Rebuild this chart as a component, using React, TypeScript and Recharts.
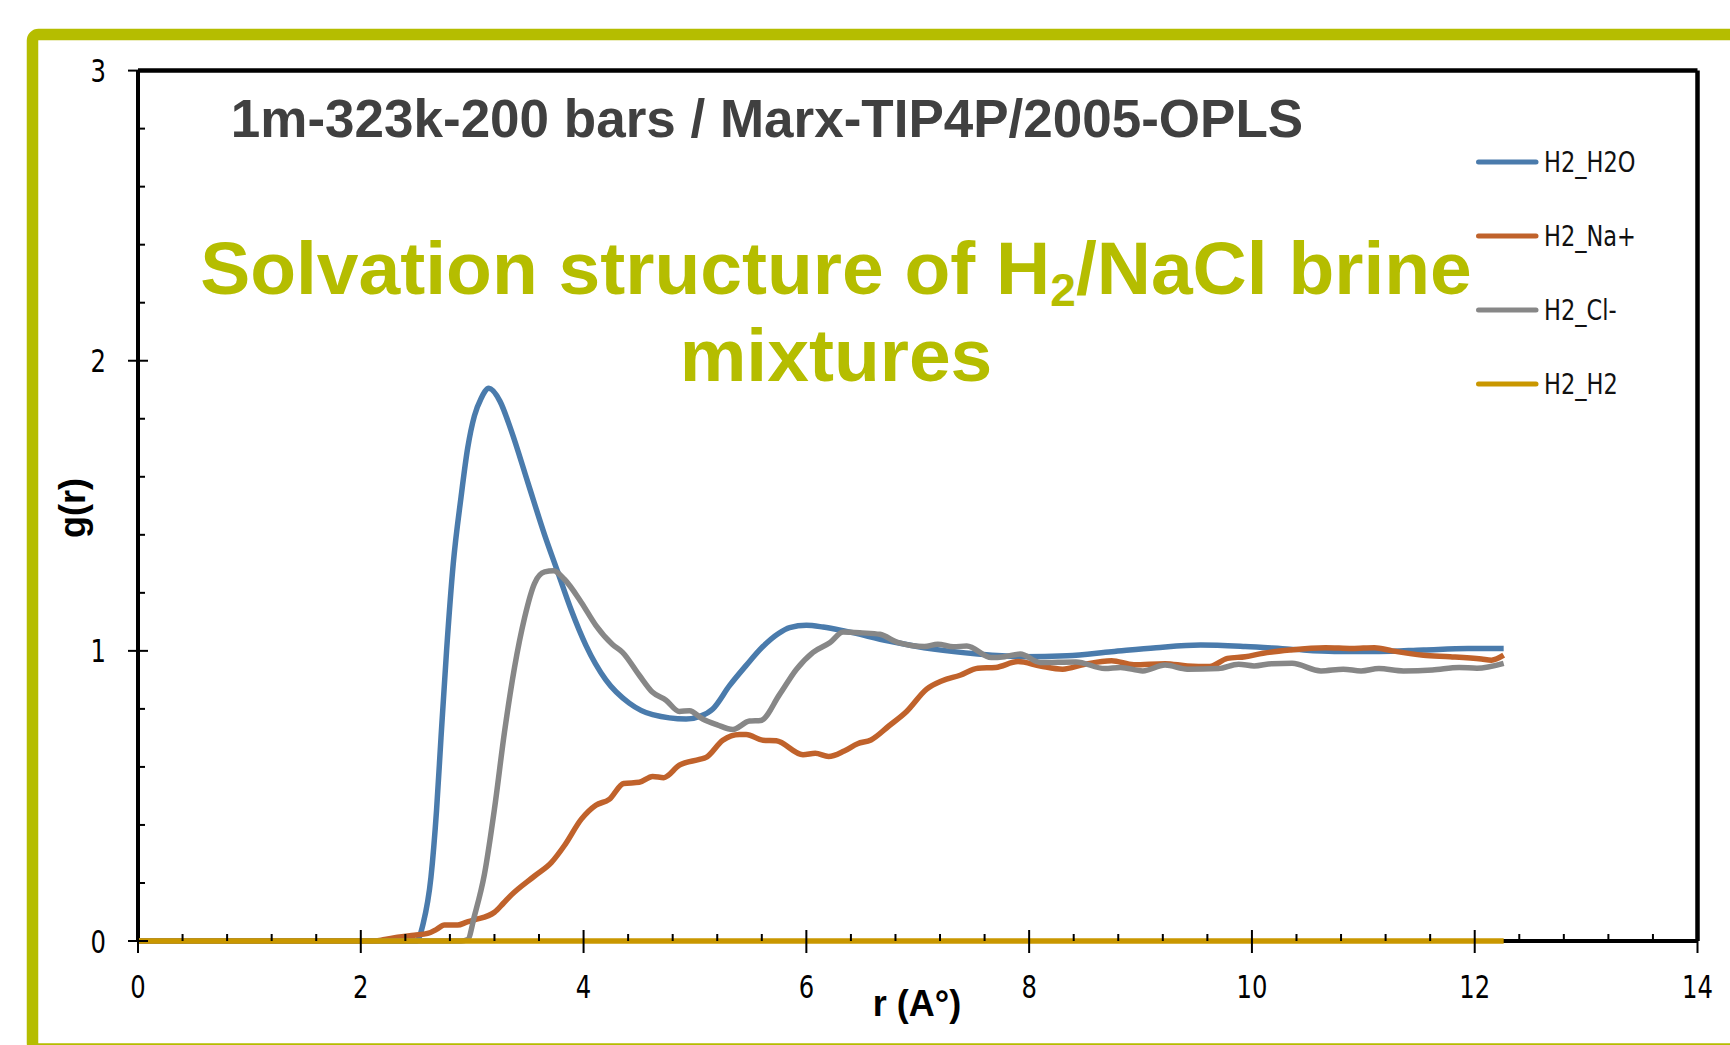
import React from 'react';
import { LineChart, Line, XAxis, YAxis, ReferenceLine, Legend } from 'recharts';

// ---------- data (r in Å, g(r)) ----------
const h2oR = [0, 2.45, 2.5, 2.56, 2.63, 2.68, 2.72, 2.77, 2.83, 2.9, 2.96, 3.02, 3.08, 3.15, 3.25, 3.35, 3.5, 3.65, 3.77, 3.89, 4.02, 4.2, 4.41, 4.62, 4.92, 5.05, 5.16, 5.31, 5.46, 5.61, 5.75, 5.85, 6.0, 6.15, 6.34, 6.74, 7.14, 7.54, 7.94, 8.34, 8.74, 9.14, 9.54, 9.94, 10.34, 10.74, 11.14, 11.54, 11.94, 12.26];
const h2oG = [0, 0, 0, 0.06, 0.22, 0.45, 0.7, 1.0, 1.3, 1.53, 1.7, 1.81, 1.87, 1.905, 1.86, 1.76, 1.58, 1.4, 1.27, 1.14, 1.02, 0.9, 0.82, 0.78, 0.765, 0.775, 0.8, 0.88, 0.95, 1.015, 1.06, 1.08, 1.088, 1.082, 1.069, 1.034, 1.006, 0.989, 0.98, 0.983, 0.997, 1.011, 1.02, 1.015, 1.006, 0.998, 0.998, 1.003, 1.008, 1.008];

const naR = [0, 2.1, 2.2, 2.33, 2.48, 2.6, 2.68, 2.75, 2.87, 2.95, 3.02, 3.2, 3.28, 3.35, 3.56, 3.71, 3.83, 3.98, 4.11, 4.23, 4.36, 4.5, 4.62, 4.72, 4.86, 5.04, 5.1, 5.25, 5.4, 5.46, 5.61, 5.73, 5.97, 6.08, 6.2, 6.34, 6.46, 6.58, 6.74, 6.9, 7.08, 7.22, 7.38, 7.54, 7.7, 7.9, 8.1, 8.3, 8.5, 8.74, 8.94, 9.22, 9.42, 9.62, 9.78, 9.94, 10.1, 10.34, 10.66, 10.9, 11.1, 11.26, 11.54, 11.78, 12.06, 12.15, 12.26];
const naG = [0, 0, 0.004, 0.013, 0.02, 0.026, 0.04, 0.055, 0.055, 0.065, 0.073, 0.099, 0.13, 0.158, 0.224, 0.27, 0.33, 0.42, 0.468, 0.488, 0.543, 0.547, 0.567, 0.563, 0.606, 0.626, 0.633, 0.692, 0.712, 0.712, 0.692, 0.69, 0.642, 0.647, 0.636, 0.655, 0.68, 0.693, 0.741, 0.791, 0.868, 0.897, 0.916, 0.94, 0.943, 0.963, 0.948, 0.937, 0.954, 0.966, 0.952, 0.956, 0.948, 0.946, 0.974, 0.98, 0.992, 1.003, 1.011, 1.008, 1.011, 1.0, 0.985, 0.98, 0.972, 0.968, 0.985];

const clR = [0, 2.9, 2.96, 3.02, 3.11, 3.2, 3.29, 3.38, 3.47, 3.56, 3.65, 3.73, 3.83, 3.98, 4.11, 4.26, 4.35, 4.5, 4.62, 4.74, 4.86, 4.95, 5.07, 5.2, 5.34, 5.49, 5.59, 5.76, 5.91, 6.06, 6.21, 6.33, 6.5, 6.66, 6.82, 7.06, 7.18, 7.32, 7.44, 7.66, 7.78, 7.92, 8.1, 8.42, 8.68, 8.82, 9.02, 9.22, 9.42, 9.7, 9.88, 10.02, 10.18, 10.36, 10.62, 10.82, 10.98, 11.14, 11.36, 11.62, 11.86, 12.02, 12.26];
const clG = [0, 0, 0.005, 0.086, 0.23, 0.455, 0.72, 0.943, 1.114, 1.233, 1.272, 1.276, 1.246, 1.167, 1.088, 1.022, 0.995, 0.916, 0.857, 0.83, 0.791, 0.794, 0.765, 0.745, 0.729, 0.758, 0.76, 0.85, 0.936, 0.995, 1.028, 1.065, 1.062, 1.057, 1.029, 1.015, 1.023, 1.014, 1.017, 0.977, 0.98, 0.989, 0.96, 0.962, 0.939, 0.943, 0.931, 0.951, 0.937, 0.939, 0.954, 0.948, 0.956, 0.957, 0.931, 0.937, 0.931, 0.939, 0.931, 0.934, 0.943, 0.94, 0.957];

const h2R = [0, 12.26];
const h2G = [0, 0];

const seriesNames = ['H2_H2O', 'H2_Na+', 'H2_Cl-', 'H2_H2'];
const seriesColors = ['#4A7BAC', '#C0622B', '#878787', '#C99700'];

const xMajorTicks = [0, 2, 4, 6, 8, 10, 12, 14];
const xAllTicks = [0, 0.4, 0.8, 1.2, 1.6, 2, 2.4, 2.8, 3.2, 3.6, 4, 4.4, 4.8, 5.2, 5.6, 6, 6.4, 6.8, 7.2, 7.6, 8, 8.4, 8.8, 9.2, 9.6, 10, 10.4, 10.8, 11.2, 11.6, 12, 12.4, 12.8, 13.2, 13.6, 14];
const yMajorTicks = [0, 1, 2, 3];
const yAllTicks = [0, 0.2, 0.4, 0.6, 0.8, 1, 1.2, 1.4, 1.6, 1.8, 2, 2.2, 2.4, 2.6, 2.8, 3];

const toRows = (rs: number[], gs: number[]) => rs.map((r, i) => ({ r, g: gs[i] }));
const h2oData = toRows(h2oR, h2oG);
const naData = toRows(naR, naG);
const clData = toRows(clR, clG);
const h2Data = toRows(h2R, h2G);
const seriesData = [h2oData, naData, clData, h2Data];

const TICK_FONT = "'Liberation Sans Narrow', 'DejaVu Sans Condensed', 'Liberation Sans', Arial, sans-serif";
const GREEN = '#B5BD00';

const XTick = (props: any) => {
  const { x, y, payload } = props;
  const v = payload.value;
  if (xMajorTicks.includes(v)) {
    return (
      <g>
        <line x1={x} x2={x} y1={y - 11} y2={y + 12} stroke="#000" strokeWidth={2} />
        <text
          transform={`translate(${x},${y + 57}) scale(1,1.2)`}
          textAnchor="middle"
          fontFamily={TICK_FONT}
          fontSize={27}
          fill="#000"
        >
          {v}
        </text>
      </g>
    );
  }
  return <line x1={x} x2={x} y1={y - 7} y2={y} stroke="#000" strokeWidth={2} />;
};

const YTick = (props: any) => {
  const { x, y, payload } = props;
  const v = payload.value;
  if (yMajorTicks.includes(v)) {
    return (
      <g>
        <line x1={x - 10} x2={x + 10} y1={y} y2={y} stroke="#000" strokeWidth={2} />
        <text
          transform={`translate(${x - 32},${y + 11.5}) scale(1,1.2)`}
          textAnchor="end"
          fontFamily={TICK_FONT}
          fontSize={27}
          fill="#000"
        >
          {v}
        </text>
      </g>
    );
  }
  return <line x1={x} x2={x + 7} y1={y} y2={y} stroke="#000" strokeWidth={2} />;
};

const LegendContent = (props: any) => {
  const payload = [...(props.payload || [])].sort(
    (a: any, b: any) => seriesNames.indexOf(a.value) - seriesNames.indexOf(b.value)
  );
  return (
    <div style={{ display: 'flex', flexDirection: 'column' }}>
      {payload.map((e: any, i: number) => (
        <div key={i} style={{ height: 74, display: 'flex', alignItems: 'center' }}>
          <svg width={66} height={10} style={{ display: 'block' }}>
            <line x1={5.5} x2={63} y1={5} y2={5} stroke={e.color} strokeWidth={5} strokeLinecap="round" />
          </svg>
          <span
            style={{
              marginLeft: 5,
              fontFamily: TICK_FONT,
              fontSize: 25,
              color: '#111',
              lineHeight: '25px',
              display: 'inline-block',
              transform: 'scaleY(1.15)',
            }}
          >
            {e.value}
          </span>
        </div>
      ))}
    </div>
  );
};

export default function App() {
  return (
    <div style={{ position: 'absolute', left: 0, top: 0, width: 1730, height: 1045, background: '#fff' }}>
      <LineChart width={1730} height={1045} margin={{ top: 70.6, right: 32.5, bottom: 44, left: 78 }}>
        <XAxis
          type="number"
          dataKey="r"
          domain={[0, 14]}
          ticks={xAllTicks}
          interval={0}
          height={60}
          tickSize={0}
          tickMargin={0}
          tickLine={false}
          axisLine={{ stroke: '#000', strokeWidth: 4 }}
          tick={<XTick />}
        />
        <YAxis
          type="number"
          dataKey="g"
          domain={[0, 3]}
          ticks={yAllTicks}
          interval={0}
          width={60}
          tickSize={0}
          tickMargin={0}
          tickLine={false}
          axisLine={{ stroke: '#000', strokeWidth: 4 }}
          tick={<YTick />}
        />
        <ReferenceLine y={3} stroke="#000" strokeWidth={4.5} />
        <ReferenceLine x={14} stroke="#000" strokeWidth={4.5} />
        {seriesData.map((d, i) => (
          <Line
            key={seriesNames[i]}
            data={d}
            dataKey="g"
            name={seriesNames[i]}
            type="monotone"
            stroke={seriesColors[i]}
            strokeWidth={5.5}
            dot={false}
            activeDot={false}
            isAnimationActive={false}
            {...({ zIndex: 600 } as any)}
          />
        ))}
        <Legend
          layout="vertical"
          align="center"
          verticalAlign="middle"
          wrapperStyle={{ position: 'absolute', left: 1473, top: 125, width: 240, height: 300 }}
          content={<LegendContent />}
        />
      </LineChart>
      <svg
        width={1730}
        height={1045}
        style={{ position: 'absolute', left: 0, top: 0, pointerEvents: 'none' }}
      >
        <rect x={32.5} y={34.5} width={1720} height={1014.5} rx={6} fill="none" stroke={GREEN} strokeWidth={11.5} />
        <text
          x={767}
          y={137}
          textAnchor="middle"
          fontFamily="'Liberation Sans', Arial, sans-serif"
          fontWeight="bold"
          fontSize={53}
          fill="#404040"
        >
          1m-323k-200 bars / Marx-TIP4P/2005-OPLS
        </text>
        <text
          x={836}
          y={294}
          textAnchor="middle"
          fontFamily="'Liberation Sans', Arial, sans-serif"
          fontWeight="bold"
          fontSize={75}
          fill={GREEN}
        >
          Solvation structure of H
          <tspan fontSize={46} dy={12}>2</tspan>
          <tspan dy={-12}>/NaCl brine</tspan>
        </text>
        <text
          x={836}
          y={381}
          textAnchor="middle"
          fontFamily="'Liberation Sans', Arial, sans-serif"
          fontWeight="bold"
          fontSize={75}
          fill={GREEN}
        >
          mixtures
        </text>
        <text
          x={917}
          y={1016}
          textAnchor="middle"
          fontFamily="'Liberation Sans', Arial, sans-serif"
          fontWeight="bold"
          fontSize={36}
          fill="#000"
        >
          r (A°)
        </text>
        <text
          transform="translate(85,508) rotate(-90)"
          x={0}
          y={0}
          textAnchor="middle"
          fontFamily="'Liberation Sans', Arial, sans-serif"
          fontWeight="bold"
          fontSize={36}
          fill="#000"
        >
          g(r)
        </text>
      </svg>
    </div>
  );
}
